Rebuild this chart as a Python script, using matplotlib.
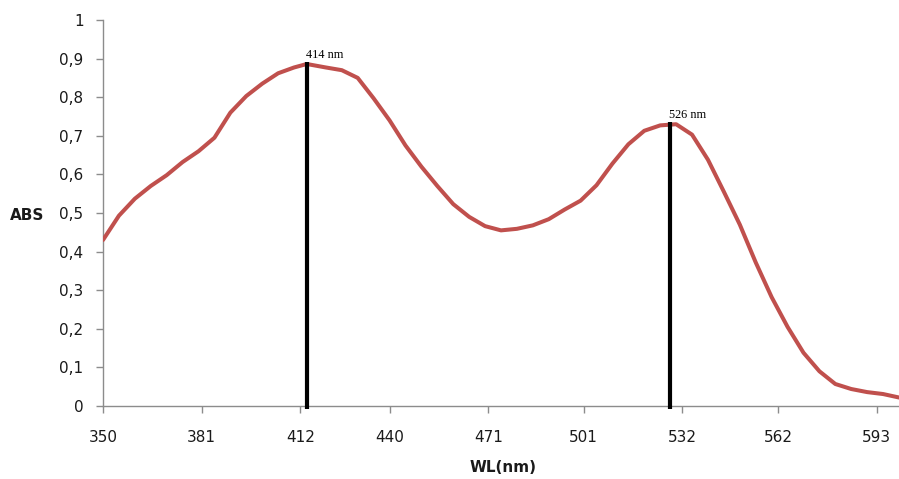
import matplotlib
matplotlib.use("Agg")
import matplotlib.pyplot as plt
from matplotlib.ticker import FuncFormatter

wavelength = [350, 355, 360, 365, 370, 375, 380, 385, 390, 395, 400, 405, 410, 414,
              420, 425, 430, 435, 440, 445, 450, 455, 460, 465, 470, 475, 480, 485,
              490, 495, 500, 505, 510, 515, 520, 525, 530, 535, 540, 545, 550, 555,
              560, 565, 570, 575, 580, 585, 590, 595, 600]
absorbance = [0.430, 0.493, 0.537, 0.570, 0.598, 0.632, 0.660, 0.695, 0.760, 0.803,
              0.835, 0.862, 0.877, 0.886, 0.877, 0.870, 0.850, 0.797, 0.740, 0.675,
              0.620, 0.570, 0.523, 0.490, 0.466, 0.455, 0.459, 0.468, 0.484, 0.509,
              0.532, 0.572, 0.628, 0.678, 0.713, 0.727, 0.730, 0.703, 0.638, 0.555,
              0.470, 0.372, 0.282, 0.205, 0.138, 0.090, 0.057, 0.044, 0.036, 0.031,
              0.022]

x_tick_labels = [350, 381, 412, 440, 471, 501, 532, 562, 593]
y_ticks = [0, 0.1, 0.2, 0.3, 0.4, 0.5, 0.6, 0.7, 0.8, 0.9, 1.0]

peak_positions = [414, 528]
peak_heights = [0.89, 0.735]
peak_labels = ["414 nm", "526 nm"]

W, H = 899, 479
fig = plt.figure(figsize=(W / 100, H / 100), dpi=100)
ax = fig.add_axes([103 / W, 1 - 406 / H, 796 / W, 386 / H])

ax.plot(wavelength, absorbance, color="#C0504D", lw=2.9, solid_capstyle="round",
        solid_joinstyle="round", zorder=3)

for xp, yp, lab in zip(peak_positions, peak_heights, peak_labels):
    ax.vlines(xp, -0.008, yp, color="black", lw=3.0, zorder=4, clip_on=False)
    ax.text(xp - 0.3, yp + 0.004, lab, ha="left", va="bottom",
            family="Liberation Serif", fontsize=8.8, color="black")

ax.set_xlim(350, 600)
ax.set_ylim(0, 1)
ax.set_xticks(x_tick_labels)
ax.set_xticklabels([str(v) for v in x_tick_labels])
ax.set_yticks(y_ticks)
ax.yaxis.set_major_formatter(FuncFormatter(
    lambda v, p: ("%g" % round(v, 1)).replace(".", ",")))

for side in ["top", "right"]:
    ax.spines[side].set_visible(False)
for side in ["left", "bottom"]:
    ax.spines[side].set_color("#8c8c8c")
    ax.spines[side].set_linewidth(1.0)

ax.tick_params(axis="both", direction="out", length=5, width=1.0, color="#8c8c8c",
               labelsize=11, labelcolor="#1a1a1a")
ax.tick_params(axis="x", pad=12)
ax.tick_params(axis="y", pad=9)

fig.text(27 / W, 1 - 215 / H, "ABS", ha="center", va="center", fontsize=11,
         fontweight="bold", color="#1a1a1a")
fig.text(503 / W, 1 - 467 / H, "WL(nm)", ha="center", va="center", fontsize=11,
         fontweight="bold", color="#1a1a1a")

fig.savefig("out.png", dpi=100)
